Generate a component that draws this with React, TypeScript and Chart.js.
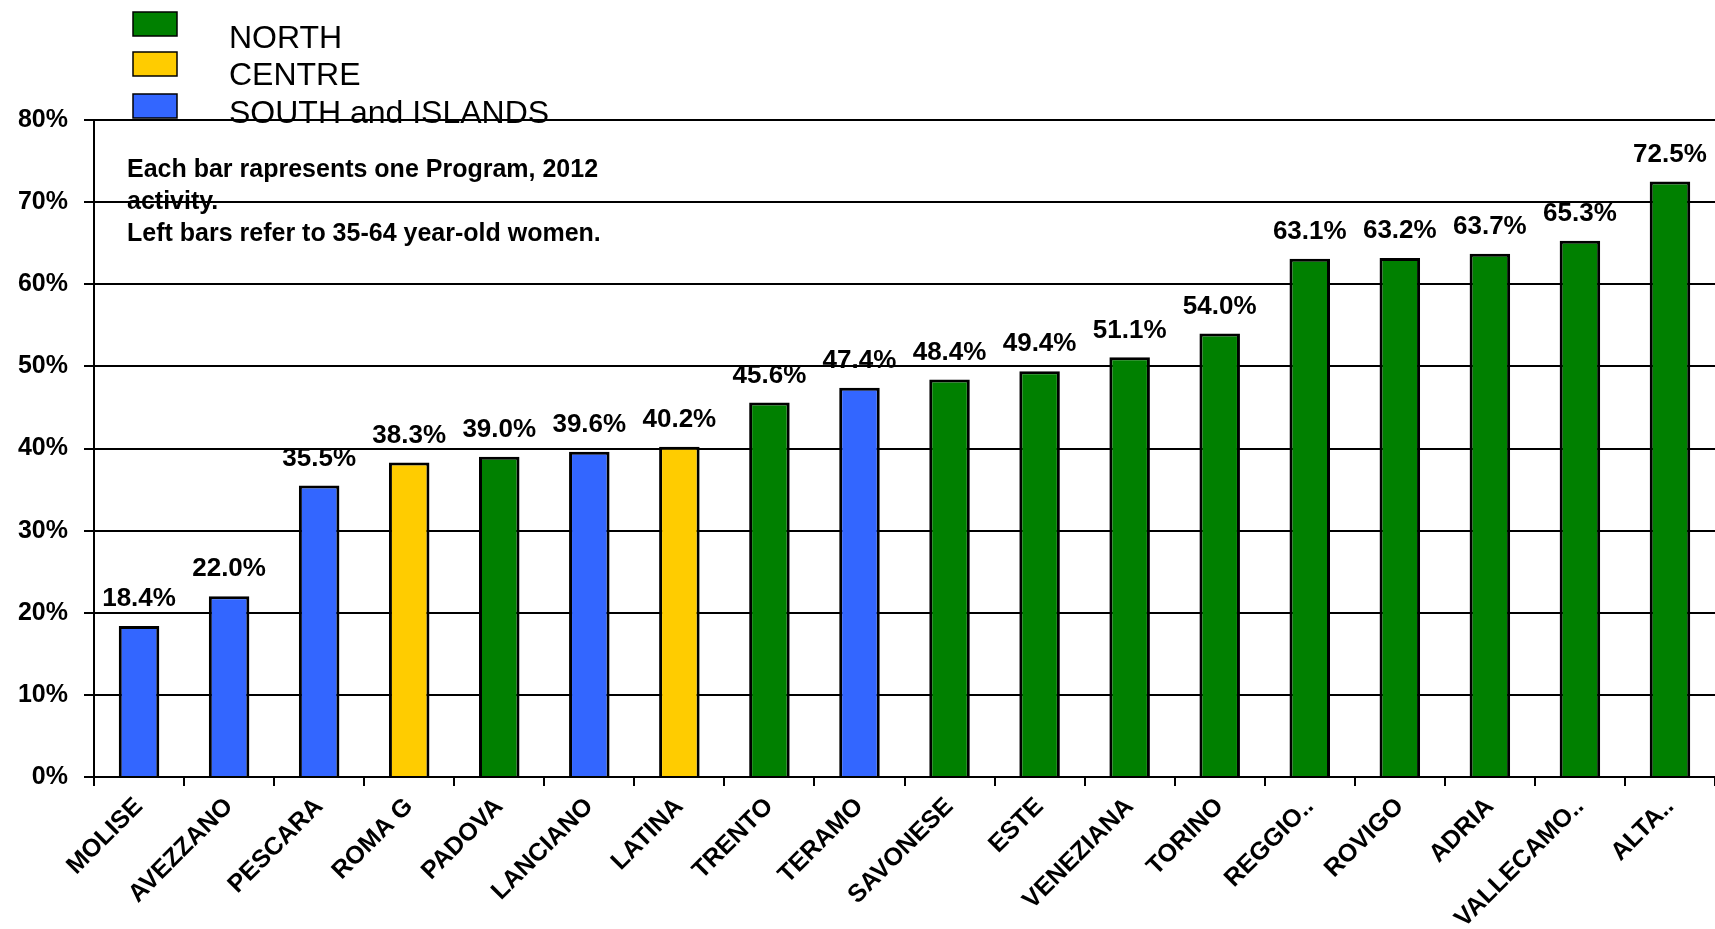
import React, { useEffect, useRef } from "react";
import { Chart, registerables } from "chart.js";

Chart.register(...registerables);

const categories = [
  "MOLISE", "AVEZZANO", "PESCARA", "ROMA G", "PADOVA", "LANCIANO", "LATINA",
  "TRENTO", "TERAMO", "SAVONESE", "ESTE", "VENEZIANA", "TORINO", "REGGIO..",
  "ROVIGO", "ADRIA", "VALLECAMO..", "ALTA..",
];
const values = [
  18.4, 22.0, 35.5, 38.3, 39.0, 39.6, 40.2, 45.6, 47.4, 48.4, 49.4, 51.1, 54.0,
  63.1, 63.2, 63.7, 65.3, 72.5,
];
const regions = [
  "S", "S", "S", "C", "N", "S", "C", "N", "S", "N", "N", "N", "N", "N", "N",
  "N", "N", "N",
];
const legendLabels = ["NORTH", "CENTRE", "SOUTH and ISLANDS"];
const legendKeys = ["N", "C", "S"];
const noteLines = [
  "Each bar rapresents one Program, 2012",
  "activity.",
  "Left bars refer to 35-64 year-old women.",
];
const yTicks = [0, 10, 20, 30, 40, 50, 60, 70, 80];

const regionColors: Record<string, string> = {
  N: "#008000",
  C: "#FFCC00",
  S: "#3366FF",
};

const FONT = "'Liberation Sans', Arial, Helvetica, sans-serif";

const overlayPlugin = {
  id: "overlay",
  afterDatasetsDraw(chart: any) {
    const ctx = chart.ctx;
    const meta = chart.getDatasetMeta(0);
    ctx.save();
    ctx.fillStyle = "#000";
    ctx.font = `bold 26px ${FONT}`;
    ctx.textAlign = "center";
    ctx.textBaseline = "middle";
    meta.data.forEach((bar: any, i: number) => {
      ctx.fillText(values[i].toFixed(1) + "%", bar.x, bar.y - 27);
    });
    ctx.restore();
  },
  afterDraw(chart: any) {
    const ctx = chart.ctx;
    ctx.save();
    // legend
    const boxTops = [12, 52, 94];
    const textMids = [39, 76, 114];
    legendKeys.forEach((k, i) => {
      ctx.fillStyle = regionColors[k];
      ctx.fillRect(133, boxTops[i], 44, 24);
      ctx.strokeStyle = "#000";
      ctx.lineWidth = 1.5;
      ctx.strokeRect(133, boxTops[i], 44, 24);
      ctx.fillStyle = "#000";
      ctx.font = `32px ${FONT}`;
      ctx.textAlign = "left";
      ctx.textBaseline = "middle";
      ctx.fillText(legendLabels[i], 229, textMids[i]);
    });
    // note
    ctx.font = `bold 25px ${FONT}`;
    ctx.textBaseline = "alphabetic";
    const baselines = [177, 209, 241];
    noteLines.forEach((t, i) => {
      ctx.fillText(t, 127, baselines[i]);
    });
    ctx.restore();
  },
};

export default function App() {
  const canvasRef = useRef<HTMLCanvasElement | null>(null);

  useEffect(() => {
    if (!canvasRef.current) return;
    Chart.defaults.font.family = FONT;
    Chart.defaults.color = "#000";
    const chart = new Chart(canvasRef.current, {
      type: "bar",
      data: {
        labels: categories,
        datasets: [
          {
            data: values,
            backgroundColor: regions.map((r) => regionColors[r]),
            borderColor: "#000",
            borderWidth: 3,
            categoryPercentage: 1,
            barPercentage: 0.45,
          },
        ],
      },
      options: {
        responsive: false,
        animation: false,
        layout: { padding: { top: 120, left: 0, right: 0, bottom: 0 } },
        plugins: {
          legend: { display: false },
          tooltip: { enabled: false },
        },
        scales: {
          x: {
            grid: {
              display: true,
              offset: true,
              drawOnChartArea: false,
              drawTicks: true,
              tickLength: 9,
              color: "#000",
              lineWidth: 2,
            },
            border: { display: true, color: "#000", width: 2 },
            ticks: {
              autoSkip: false,
              minRotation: 45,
              maxRotation: 45,
              padding: 6,
              color: "#000",
              font: { size: 25, weight: "bold", family: FONT },
            },
            afterFit(scale: any) {
              scale.height = 152;
            },
          },
          y: {
            min: 0,
            max: 80,
            afterBuildTicks(scale: any) {
              scale.ticks = yTicks.map((v) => ({ value: v }));
            },
            grid: {
              color: "#000",
              lineWidth: 2,
              tickLength: 10,
            },
            border: { display: true, color: "#000", width: 2 },
            ticks: {
              padding: 16,
              color: "#000",
              font: { size: 25, weight: "bold", family: FONT },
              callback: (v: any) => v + "%",
            },
            afterFit(scale: any) {
              scale.width = 94;
            },
          },
        },
      },
      plugins: [overlayPlugin],
    });
    return () => chart.destroy();
  }, []);

  return (
    <div
      style={{
        position: "fixed",
        left: 0,
        top: 0,
        width: 1715,
        height: 929,
        background: "#fff",
      }}
    >
      <canvas
        ref={canvasRef}
        width={1715}
        height={929}
        style={{ display: "block", width: 1715, height: 929 }}
      />
    </div>
  );
}
